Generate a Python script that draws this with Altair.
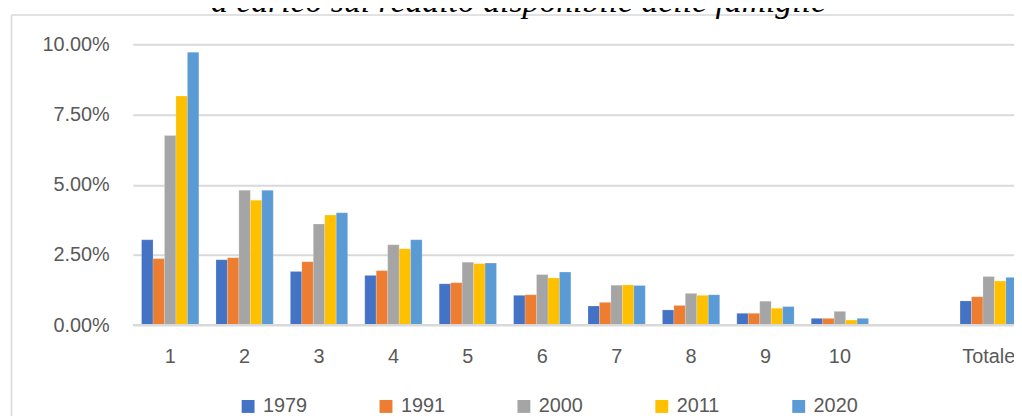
import altair as alt
import pandas as pd

categories = ["1", "2", "3", "4", "5", "6", "7", "8", "9", "10", " ", "Totale"]
years = ["1979", "1991", "2000", "2011", "2020"]
colors = ["#4472C4", "#ED7D31", "#A5A5A5", "#FFC000", "#5B9BD5"]

v1979 = [0.0304, 0.0233, 0.0191, 0.0177, 0.0147, 0.0106, 0.0068, 0.0054, 0.0042, 0.0024, None, 0.0086]
v1991 = [0.0237, 0.0240, 0.0226, 0.0194, 0.0151, 0.0108, 0.0081, 0.0070, 0.0042, 0.0024, None, 0.0101]
v2000 = [0.0675, 0.0480, 0.0360, 0.0286, 0.0224, 0.0180, 0.0142, 0.0113, 0.0085, 0.0049, None, 0.0173]
v2011 = [0.0816, 0.0445, 0.0392, 0.0272, 0.0219, 0.0168, 0.0143, 0.0106, 0.0060, 0.0018, None, 0.0157]
v2020 = [0.0972, 0.0480, 0.0400, 0.0304, 0.0221, 0.0189, 0.0141, 0.0108, 0.0066, 0.0024, None, 0.0170]

title_text = "a carico sul reddito disponibile delle famiglie"
y_ticks = [0, 0.025, 0.05, 0.075, 0.10]

series = [v1979, v1991, v2000, v2011, v2020]
rows = []
for yr, vals in zip(years, series):
    for c, v in zip(categories, vals):
        if v is not None:
            rows.append({"cat": c, "year": yr, "value": v})
df = pd.DataFrame(rows)

W = 888
H = 283
GRID = "#d9d9d9"
TXT = "#595959"

bars = alt.Chart(df).mark_bar(stroke="white", strokeWidth=0.3, strokeOpacity=0.6).encode(
    x=alt.X("cat:N", sort=categories,
            scale=alt.Scale(domain=categories, range=[0, 900], paddingInner=0.23, paddingOuter=0.115),
            axis=alt.Axis(title=None, labelAngle=0, ticks=False, domain=False, grid=False,
                          labelFontSize=20, labelColor=TXT, labelFont="Liberation Sans",
                          labelPadding=22)),
    xOffset=alt.XOffset("year:N", sort=years, scale=alt.Scale(paddingInner=0, paddingOuter=0)),
    y=alt.Y("value:Q", scale=alt.Scale(domain=[0, 0.10], nice=False),
            axis=alt.Axis(title=None, format=".2%", values=y_ticks, ticks=False, domain=False,
                          grid=True, gridColor=GRID, gridWidth=2,
                          labelFontSize=20, labelColor=TXT, labelFont="Liberation Sans",
                          labelPadding=24)),
    color=alt.Color("year:N", sort=years, scale=alt.Scale(domain=years, range=colors),
                    legend=alt.Legend(title=None, orient="none", legendX=106, legendY=355,
                                      direction="horizontal", columns=5, columnPadding=69,
                                      symbolType="square", symbolSize=169, symbolStrokeWidth=0,
                                      labelFontSize=20, labelColor=TXT, labelFont="Liberation Sans",
                                      labelOffset=5, padding=0)),
)

baseline = alt.Chart(pd.DataFrame({"v": [0]})).mark_rule(color=GRID, strokeWidth=2).encode(
    y="v:Q", x=alt.value(0), x2=alt.value(W))

border_left = alt.Chart(pd.DataFrame({"a": [0]})).mark_rule(color=GRID, strokeWidth=1.5).encode(
    x=alt.value(-122.5), y=alt.value(-29.5), y2=alt.value(380))
border_top = alt.Chart(pd.DataFrame({"a": [0]})).mark_rule(color=GRID, strokeWidth=1.5).encode(
    x=alt.value(-122.5), x2=alt.value(W + 10), y=alt.value(-29.5))

title = alt.Chart(pd.DataFrame({"t": [title_text]})).mark_text(
    font="Liberation Serif", fontStyle="italic", fontSize=34, color="black",
    align="center", baseline="alphabetic").encode(
    text="t:N", x=alt.value(388.5), y=alt.value(-33))

chart = alt.layer(border_left, border_top, bars, baseline, title).properties(
    width=W, height=H,
    autosize=alt.AutoSizeParams(type="none"),
    padding={"left": 126, "top": 35, "right": 0, "bottom": 90},
).configure_view(stroke=None)

chart.save("out.html", embed_options={"renderer": "svg", "actions": False})
